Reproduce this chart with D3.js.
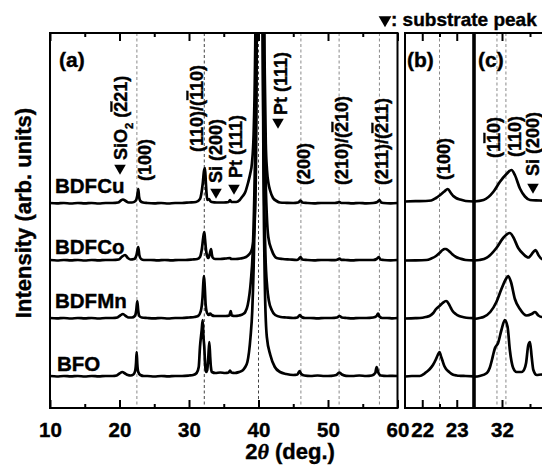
<!DOCTYPE html>
<html><head><meta charset="utf-8">
<script src="https://cdn.jsdelivr.net/npm/d3@7"></script>
<style>
html,body{margin:0;padding:0;background:#fff;}
svg{display:block;font-family:"Liberation Sans",Arial,Helvetica,sans-serif;font-weight:bold;}
svg text{stroke:#000;stroke-width:0.4px;}
</style></head><body>
<svg id="chart" width="542" height="465"></svg>
<script>
// ---------------- DATA ----------------
const categories = ["BFO", "BDFMn", "BDFCo", "BDFCu"];
const offsets = [31, 89, 147, 204];

// wide scans, panel (a): [2theta, intensity]
const wideBFO = [[10,1],[11,0.5],[12,1],[13,0.6],[14,1],[15,0.5],[16,1],[17,0.6],[18,1],[19,1],[19.6,1.5],[20.0,3.5],[20.4,5],[20.8,3.5],[21.2,2],[21.6,1.5],[22.0,2.5],[22.25,6],[22.38,14],[22.47,25],[22.56,13],[22.7,5],[23.0,2],[23.5,1],[24,1],[25,0.5],[26,1],[27,0.6],[28,1],[29,1],[30,1.5],[30.6,2],[31.1,4],[31.4,10],[31.58,30],[31.83,47],[31.97,57],[32.08,40],[32.2,30],[32.32,12],[32.45,5],[32.62,7],[32.78,20],[32.92,35],[33.05,20],[33.15,10],[33.3,5],[33.8,4],[34.5,4.5],[35.2,4],[35.7,4.5],[35.9,6.5],[36.1,4.5],[36.6,4],[37.2,5],[37.7,6.5],[38.0,9],[38.4,15],[38.85,40],[39.1,66],[39.3,110],[39.55,215],[39.7,345],[39.85,800],[40.0,2000],[40.15,3000],[40.3,2000],[40.45,800],[40.6,345],[40.75,180],[40.95,80],[41.2,40],[41.7,22],[42.35,10],[43.1,5],[44,3],[45,2],[45.6,2.5],[45.9,6],[46.15,3],[46.6,1.5],[47.5,1],[48.5,1.5],[49.5,1],[50.5,1.2],[51.2,2],[51.6,4.5],[52.0,2.5],[52.6,1.2],[53.5,1],[54.5,1.5],[55.5,1],[56.3,1.5],[56.8,4],[57.0,10],[57.2,5],[57.6,1.5],[58.5,1],[59.3,1.2],[60,1]];
const wideBDFMn = [[10,1],[11,0.6],[12,1],[13,0.5],[14,1],[15,0.6],[16,1],[17,0.5],[18,1],[19,1],[19.7,1.5],[20.1,3.5],[20.5,5],[20.9,3],[21.3,1.5],[21.8,1.5],[22.2,3],[22.42,9],[22.56,18],[22.68,9],[22.85,3],[23.2,1.5],[24,1],[25,0.6],[26,1],[27,0.5],[28,1],[29,1],[30,1.5],[30.8,2],[31.3,3],[31.7,8],[31.95,22],[32.08,38],[32.16,43],[32.26,33],[32.4,14],[32.6,6],[32.85,4],[33.05,5.5],[33.25,4],[33.7,3],[34.5,3],[35.3,3],[35.8,3.5],[36.0,8],[36.15,3.5],[36.6,3],[37.2,3.5],[37.8,5],[38.1,7],[38.45,14],[38.9,38],[39.15,64],[39.35,108],[39.6,213],[39.7,300],[39.85,800],[40.0,2000],[40.15,3000],[40.3,2000],[40.45,800],[40.6,300],[40.75,160],[41.0,64],[41.25,32],[41.5,18],[41.9,9],[42.4,4],[43.2,2],[44,1.5],[45,1],[45.6,1.5],[45.95,4],[46.2,2],[46.7,1],[47.5,1],[48.5,0.6],[49.5,1],[50.5,1],[51.3,1.5],[51.65,3],[52.0,1.5],[52.7,1],[53.5,0.6],[54.5,1],[55.5,1],[56.5,1.5],[57.0,3],[57.2,5.5],[57.4,2.5],[57.8,1],[58.5,1],[59.3,0.6],[60,1]];
const wideBDFCo = [[10,1],[11,0.5],[12,1],[13,0.6],[14,1],[15,0.5],[16,1],[17,0.6],[18,1],[19,1],[19.9,1.5],[20.3,4],[20.8,6],[21.2,3],[21.6,1.5],[22.1,2],[22.45,6],[22.7,14],[22.85,6],[23.1,2],[23.5,1],[24.5,1],[25.5,0.6],[26.5,1],[27.5,0.6],[28.5,1],[29.5,1],[30.5,1.5],[31.2,2],[31.58,4],[31.85,12],[32.06,24],[32.2,29],[32.3,22],[32.45,11],[32.6,5],[32.78,3],[32.95,6],[33.02,8],[33.17,12],[33.28,7],[33.4,3.5],[33.74,2],[34.5,2],[35.3,2.5],[35.9,3],[36.1,2],[36.7,2],[37.4,2.5],[38.2,4],[38.7,7],[39.06,12],[39.3,22],[39.55,60],[39.7,150],[39.8,330],[39.9,590],[40.0,1300],[40.15,2500],[40.25,3000],[40.35,2500],[40.5,1300],[40.6,590],[40.7,330],[40.8,200],[41.0,90],[41.2,45],[41.41,24],[41.9,11],[42.3,5],[42.6,3],[43.5,2],[44.5,1.5],[45.5,1],[45.8,2],[46.05,4],[46.3,1.5],[47,1],[48,0.6],[49,1],[50,1],[51,0.8],[51.4,1.5],[51.65,2.5],[51.9,1.2],[52.5,1],[53.5,0.6],[54.5,1],[55.5,1],[56.5,1],[57.0,2],[57.3,4],[57.55,1.5],[58,1],[59,0.6],[60,1]];
const wideBDFCu = [[10,1],[11,0.6],[12,1],[13,0.5],[14,1],[15,0.6],[16,1],[17,0.5],[18,1],[19,1],[19.8,1.5],[20.2,3.5],[20.5,4.5],[20.9,3],[21.3,1.5],[21.8,1.5],[22.3,3],[22.55,8],[22.7,15],[22.82,7],[23.0,3],[23.4,1.5],[24,1],[25,0.6],[26,1],[27,0.5],[28,1],[29,1],[30,1.5],[31,2],[31.58,5],[31.97,20],[32.16,33],[32.3,36],[32.42,22],[32.5,13],[32.63,4],[32.88,5],[33.05,3],[33.27,2],[34,1.5],[35,1.5],[35.7,2],[35.9,4],[36.1,2],[36.8,2],[37.3,4],[37.63,7],[38.1,12],[38.49,21],[38.8,30],[39.06,41],[39.3,70],[39.5,140],[39.65,260],[39.8,600],[39.95,1300],[40.1,2500],[40.2,3000],[40.3,2500],[40.45,1300],[40.6,600],[40.75,260],[40.9,130],[41.05,60],[41.22,34],[41.45,20],[41.65,14],[42.09,6],[42.6,3],[43.09,1.5],[44,1.2],[45,1],[45.7,1.5],[46.05,3.5],[46.3,1.5],[47,1],[48,0.6],[49,1],[50,1],[51,1],[51.4,1.5],[51.65,2],[51.9,1],[52.5,1],[53.5,0.6],[54.5,1],[55.5,0.6],[56.5,1],[57.1,2],[57.4,4],[57.65,1.5],[58,1],[59,0.6],[60,1]];

// fine scans, panel (b): (100) region
const fineB_BFO = [[21.5,0.5],[21.7,1],[21.93,1],[22.05,3],[22.12,5],[22.22,8],[22.31,12],[22.4,18],[22.45,22],[22.5,25],[22.55,20],[22.58,17],[22.64,11],[22.69,8],[22.78,5],[22.88,2.5],[23.0,1.5],[23.1,1.2],[23.26,1],[23.5,0.6]];
const fineB_BDFMn = [[21.5,0.5],[21.8,0.8],[21.93,1],[22.1,2],[22.21,3],[22.32,6],[22.4,10],[22.5,13],[22.59,16],[22.69,18],[22.72,17.5],[22.77,15],[22.83,11],[22.88,8],[22.97,5],[23.07,3],[23.2,1.8],[23.36,1],[23.5,0.8]];
const fineB_BDFCo = [[21.5,0.5],[21.8,0.6],[22.12,1],[22.26,2.5],[22.4,5],[22.5,8],[22.59,11],[22.64,12],[22.69,12],[22.74,11],[22.79,9.5],[22.88,6.5],[22.98,4],[23.1,2.5],[23.26,1],[23.5,0.6]];
const fineB_BDFCu = [[21.5,2.5],[21.8,2.8],[22.1,3],[22.26,3.5],[22.4,6],[22.5,8.5],[22.64,12.5],[22.74,15],[22.83,11],[22.9,8],[22.98,6],[23.1,4.5],[23.26,3],[23.5,2.5]];

// fine scans, panel (c): (110) region
const fineC_BFO = [[31.5,0.3],[31.6,1],[31.73,4],[31.78,9],[31.82,17],[31.85,24],[31.875,29],[31.93,34],[31.99,47],[32.05,57],[32.1,50],[32.14,27],[32.2,9],[32.26,5],[32.35,5],[32.4,8],[32.43,14],[32.47,32],[32.5,35],[32.53,20],[32.56,7],[32.62,2],[32.7,2.5],[32.8,2],[33.0,2]];
const fineC_BDFMn = [[31.5,0],[31.6,1],[31.67,2],[31.79,7],[31.9,17],[31.99,30],[32.07,40],[32.11,43],[32.16,37],[32.23,20],[32.32,10],[32.44,3.5],[32.53,5],[32.59,7],[32.65,3.5],[32.71,2],[32.8,2],[33.0,1.5]];
const fineC_BDFCo = [[31.5,0.5],[31.6,1],[31.73,3.3],[31.9,13],[32.02,23],[32.14,28],[32.2,24],[32.29,13],[32.38,7],[32.47,3.5],[32.56,9],[32.6,11],[32.65,6],[32.71,2],[32.8,1.5],[33.0,1]];
const fineC_BDFCu = [[31.5,2.5],[31.67,4],[31.85,12.5],[31.96,22],[32.08,30],[32.17,34],[32.23,29],[32.32,15.5],[32.41,7.5],[32.5,4],[32.68,3.5],[32.8,3],[33.0,3]];

const wideSeries = [wideBFO, wideBDFMn, wideBDFCo, wideBDFCu];
const fineBSeries = [fineB_BFO, fineB_BDFMn, fineB_BDFCo, fineB_BDFCu];
const fineCSeries = [fineC_BFO, fineC_BDFMn, fineC_BDFCo, fineC_BDFCu];

const ticksA = [10, 20, 30, 40, 50, 60];
const minorA = [15, 25, 35, 45, 55];
const ticksB = [22, 23];
const minorB = [22.5];
const ticksC = [32];
const minorC = [32.5];
const dashA = [22.5, 46.1, 51.6, 57.4];
const dashAdark = [32.2, 40.0];
const dashB = [22.5];
const dashC = [31.91, 32.07];

// ---------------- DRAW ----------------
const svg = d3.select("#chart");
const T = 33, B = 408;
const y = d3.scaleLinear().domain([0, 375]).range([B, T]);
const xa = d3.scaleLinear().domain([10, 60]).range([50, 397.5]);
const xb = d3.scaleLinear().domain([21.5, 23.5]).range([405, 474]);
const xc = d3.scaleLinear().domain([31.5, 33]).range([474, 558]);

const defs = svg.append("defs");
function clip(id, x0, x1) {
  defs.append("clipPath").attr("id", id).append("rect")
    .attr("x", x0).attr("y", T).attr("width", x1 - x0).attr("height", B - T);
}
clip("ca", 50, 397.5); clip("cb", 405, 474); clip("cc", 474, 560);

function dashes(x, vals, color, id) {
  svg.append("g").attr("clip-path", `url(#${id})`).selectAll("line").data(vals).join("line")
    .attr("x1", d => x(d)).attr("x2", d => x(d)).attr("y1", T).attr("y2", B)
    .attr("stroke", color).attr("stroke-width", 1).attr("stroke-dasharray", "3,2.5");
}
dashes(xa, dashA, "#8a8a8a", "ca");
dashes(xa, dashAdark, "#444", "ca");
dashes(xb, dashB, "#8a8a8a", "cb");
dashes(xc, dashC, "#8a8a8a", "cc");

function traces(x, series, id) {
  const g = svg.append("g").attr("clip-path", `url(#${id})`);
  series.forEach((s, i) => {
    const line = d3.line().x(d => x(d[0])).y(d => y(d[1] + offsets[i])).curve(d3.curveMonotoneX);
    g.append("path").datum(s).attr("d", line).attr("fill", "none")
      .attr("stroke", "#000").attr("stroke-width", 2.7).attr("stroke-linejoin", "round");
  });
}
traces(xa, wideSeries, "ca");
traces(xb, fineBSeries, "cb");
traces(xc, fineCSeries, "cc");

function axes(x, major, minor) {
  const gb = svg.append("g").attr("transform", `translate(0,${B})`)
    .call(d3.axisBottom(x).tickValues(major).tickSizeInner(-8).tickSizeOuter(0).tickPadding(14)
      .tickFormat(d3.format("d")));
  gb.select(".domain").remove();
  gb.selectAll("line").attr("stroke-width", 2);
  gb.selectAll("text").attr("font-size", 20.5).attr("font-family", '"Liberation Sans",Arial,sans-serif')
    .attr("font-weight", "bold").attr("fill", "#000");
  const gm = svg.append("g").attr("transform", `translate(0,${B})`)
    .call(d3.axisBottom(x).tickValues(minor).tickSizeInner(-4).tickSizeOuter(0).tickFormat(""));
  gm.select(".domain").remove(); gm.selectAll("line").attr("stroke-width", 2);
  const gt = svg.append("g").attr("transform", `translate(0,${T})`)
    .call(d3.axisTop(x).tickValues(major).tickSizeInner(-8).tickSizeOuter(0).tickFormat(""));
  gt.select(".domain").remove(); gt.selectAll("line").attr("stroke-width", 2);
  const gtm = svg.append("g").attr("transform", `translate(0,${T})`)
    .call(d3.axisTop(x).tickValues(minor).tickSizeInner(-4).tickSizeOuter(0).tickFormat(""));
  gtm.select(".domain").remove(); gtm.selectAll("line").attr("stroke-width", 2);
}
axes(xa, ticksA, minorA);
axes(xb, ticksB, minorB);
axes(xc, ticksC, minorC);

// frames
svg.append("rect").attr("x", 50).attr("y", T).attr("width", 347.5).attr("height", B - T)
  .attr("fill", "none").attr("stroke", "#000").attr("stroke-width", 2);
svg.append("rect").attr("x", 405).attr("y", T).attr("width", 160).attr("height", B - T)
  .attr("fill", "none").attr("stroke", "#000").attr("stroke-width", 2);
svg.append("line").attr("x1", 474).attr("x2", 474).attr("y1", T).attr("y2", B)
  .attr("stroke", "#000").attr("stroke-width", 3.6);

// sample labels
const labelPos = [[57, 371], [55, 308], [55, 254], [55, 193]];
categories.forEach((c, i) => {
  svg.append("text").attr("x", labelPos[i][0]).attr("y", labelPos[i][1])
    .attr("font-size", 20.5).text(c);
});

// panel letters
[["(a)", 59, 67], ["(b)", 407, 67], ["(c)", 478, 67]].forEach(p => {
  svg.append("text").attr("x", p[1]).attr("y", p[2]).attr("font-size", 21).text(p[0]);
});

// triangle marker
function tri(x, yy, s) {
  svg.append("path").attr("d", d3.symbol().type(d3.symbolTriangle).size(s || 58)())
    .attr("transform", `translate(${x},${yy}) rotate(180)`).attr("fill", "#000");
}

// rotated peak labels
const FS = 18;
function vlabel(x, y0, parts) {
  const t = svg.append("text").attr("transform", `translate(${x},${y0}) rotate(-90)`)
    .attr("dy", "0.36em").attr("font-size", FS);
  parts.forEach(p => {
    const s = t.append("tspan").text(p.t);
    if (p.o) s.style("text-decoration", "overline");
    if (p.sub) s.attr("font-size", FS * 0.62).attr("dy", "0.45em");
    if (p.up) s.attr("dy", "-0.28em");
  });
}
tri(120, 168);
vlabel(121, 160, [{t: "SiO"}, {t: "2", sub: 1}, {t: " (", up: 1}, {t: "2", o: 1}, {t: "21)"}]);
vlabel(145, 181, [{t: "(100)"}]);
vlabel(197, 152, [{t: "(110)/("}, {t: "1", o: 1}, {t: "10)"}]);
tri(216, 192);
vlabel(216, 183, [{t: "Si (200)"}]);
tri(234, 188);
vlabel(236, 178, [{t: "Pt (111)"}]);
tri(278, 122);
vlabel(281, 115, [{t: "Pt (111)"}]);
vlabel(304, 185, [{t: "(200)"}]);
vlabel(342, 185, [{t: "(210)/("}, {t: "2", o: 1}, {t: "10)"}]);
vlabel(382, 185, [{t: "(211)/("}, {t: "2", o: 1}, {t: "11)"}]);
vlabel(444, 180, [{t: "(100)"}]);
vlabel(494, 158, [{t: "(1"}, {t: "1", o: 1}, {t: "0)"}]);
vlabel(515, 157, [{t: "(110)"}]);
tri(533, 187);
vlabel(533, 176, [{t: "Si (200)"}]);

// legend
tri(385, 20, 70);
svg.append("text").attr("x", 391).attr("y", 26).attr("font-size", 19).text(": substrate peak");

// axis titles
const xt = svg.append("text").attr("x", 290).attr("y", 459).attr("text-anchor", "middle").attr("font-size", 22);
xt.append("tspan").text("2");
xt.append("tspan").text("θ").attr("font-style", "italic").attr("font-family", '"Liberation Serif",serif');
xt.append("tspan").text(" (deg.)");
svg.append("text").attr("transform", "translate(31,213) rotate(-90)").attr("text-anchor", "middle")
  .attr("font-size", 22).text("Intensity (arb. units)");
</script>
</body></html>
